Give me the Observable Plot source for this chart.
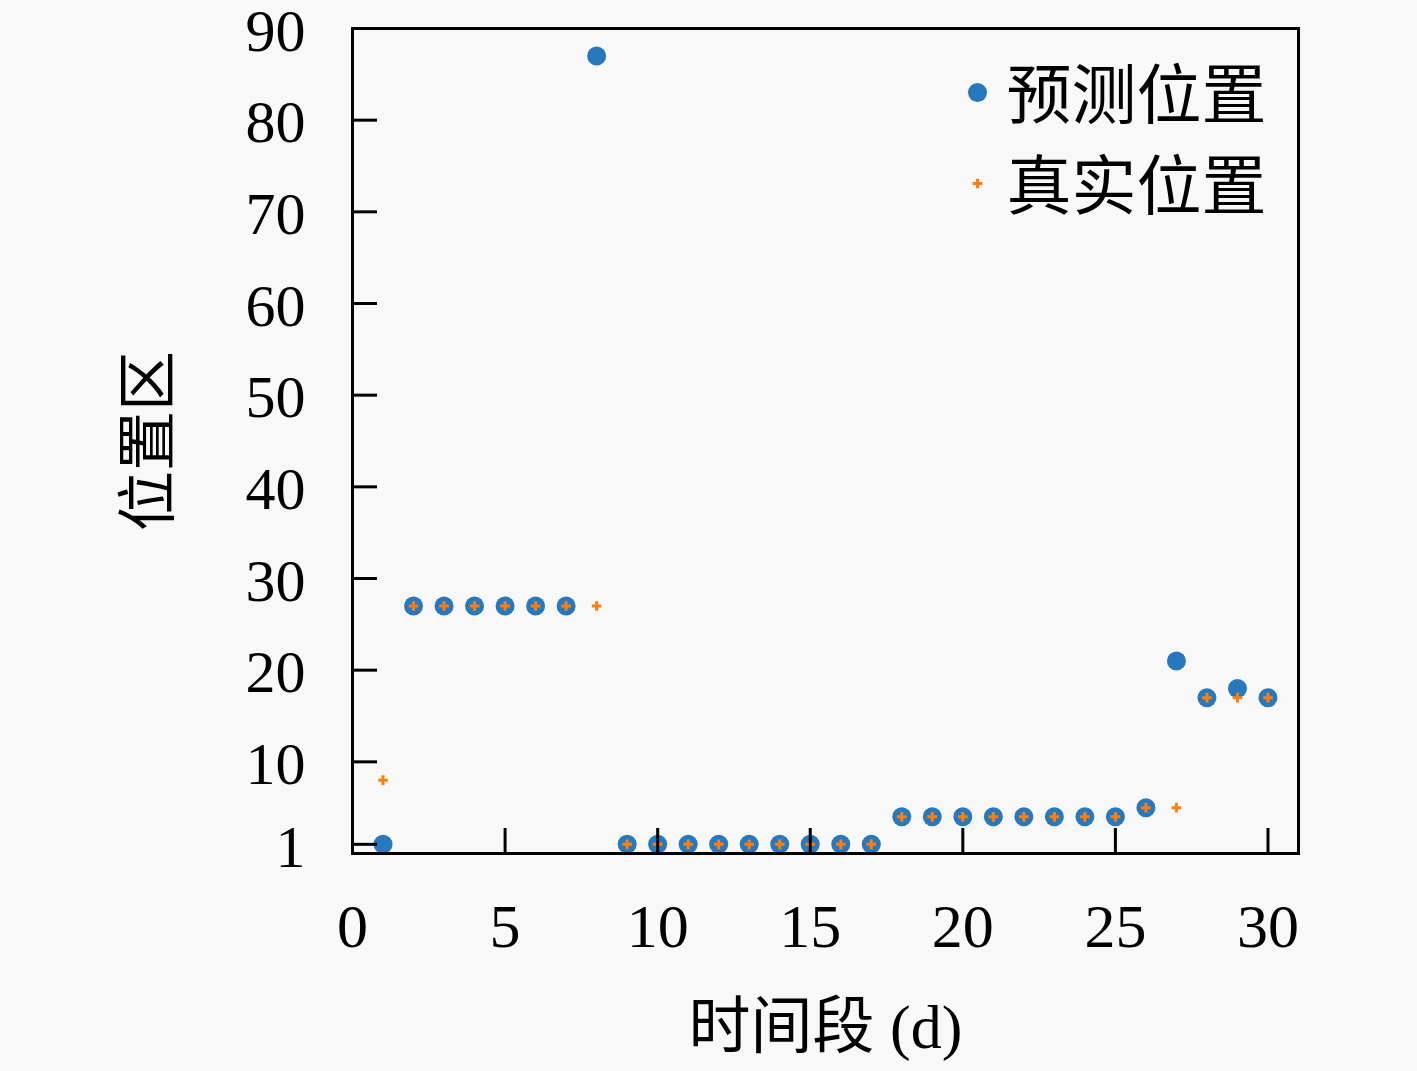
<!DOCTYPE html>
<html>
<head>
<meta charset="utf-8">
<script src="https://cdn.jsdelivr.net/npm/d3@7"></script>
<script src="https://cdn.jsdelivr.net/npm/@observablehq/plot@0.6"></script>
<style>
  html, body { margin: 0; padding: 0; background: #f8f8f8; }
</style>
</head>
<body>
<div id="chart"></div>
<script>
const days = d3.range(1, 31);
const predicted = [1, 27, 27, 27, 27, 27, 27, 87, 1, 1, 1, 1, 1, 1, 1, 1, 1, 4, 4, 4, 4, 4, 4, 4, 4, 5, 21, 17, 18, 17];
const actual =    [8, 27, 27, 27, 27, 27, 27, 27, 1, 1, 1, 1, 1, 1, 1, 1, 1, 4, 4, 4, 4, 4, 4, 4, 4, 5, 5, 17, 17, 17];
const xTicks = [0, 5, 10, 15, 20, 25, 30];
const yTicks = [1, 10, 20, 30, 40, 50, 60, 70, 80, 90];
const seriesNames = ["预测位置", "真实位置"];
const colors = ["#2878bd", "#ff7f0e"];

const predData = days.map((d, i) => ({day: d, value: predicted[i]}));
const actData = days.map((d, i) => ({day: d, value: actual[i]}));

const font = "'Liberation Serif', 'Noto Sans CJK SC', serif";

const chart = Plot.plot({
  width: 1417,
  height: 1071,
  marginLeft: 352,
  marginRight: 119,
  marginTop: 28,
  marginBottom: 218,
  style: {background: "#f8f8f8", fontFamily: font, fontSize: "62px", color: "#000"},
  x: {domain: [0, 31]},
  y: {domain: [0, 90]},
  marks: [
    Plot.dot(predData, {x: "day", y: "value", r: 9.5, fill: colors[0], stroke: "none"}),
    Plot.dot(actData, {x: "day", y: "value", symbol: "plus", r: 3.2, stroke: colors[1], strokeWidth: 3}),
    Plot.axisX({ticks: xTicks, tickSize: -25, tickPadding: 74, strokeWidth: 3, fontSize: 62, fontFamily: font,
      label: "时间段 (d)", labelAnchor: "center", labelOffset: 194, labelArrow: "none"}),
    Plot.axisY({ticks: yTicks, tickSize: -25, tickPadding: 72, strokeWidth: 3, fontSize: 60, fontFamily: font,
      label: "位置区", labelAnchor: "center", labelOffset: 226, labelArrow: "none"}),
    Plot.frame({stroke: "#000", strokeWidth: 3}),
    Plot.dot([seriesNames[0]], {frameAnchor: "top-right", dx: -(1298 - 977), dy: 92 - 28, r: 9.5, fill: colors[0]}),
    Plot.dot([seriesNames[1]], {frameAnchor: "top-right", dx: -(1298 - 977), dy: 183 - 28, symbol: "plus", r: 3.2, stroke: colors[1], strokeWidth: 3}),
    Plot.text([seriesNames[0]], {text: d => d, frameAnchor: "top-right", dx: -(1298 - 1006), dy: 92 - 28 - 21, textAnchor: "start", fontSize: 65, fontFamily: font, fill: "#000"}),
    Plot.text([seriesNames[1]], {text: d => d, frameAnchor: "top-right", dx: -(1298 - 1006), dy: 183 - 28 - 21, textAnchor: "start", fontSize: 65, fontFamily: font, fill: "#000"})
  ]
});
// nudge y tick labels slightly down, as in the reference
d3.select(chart).selectAll("g[aria-label='y-axis tick label'] text").attr("dy", "3px");
document.getElementById("chart").appendChild(chart);
</script>
</body>
</html>
